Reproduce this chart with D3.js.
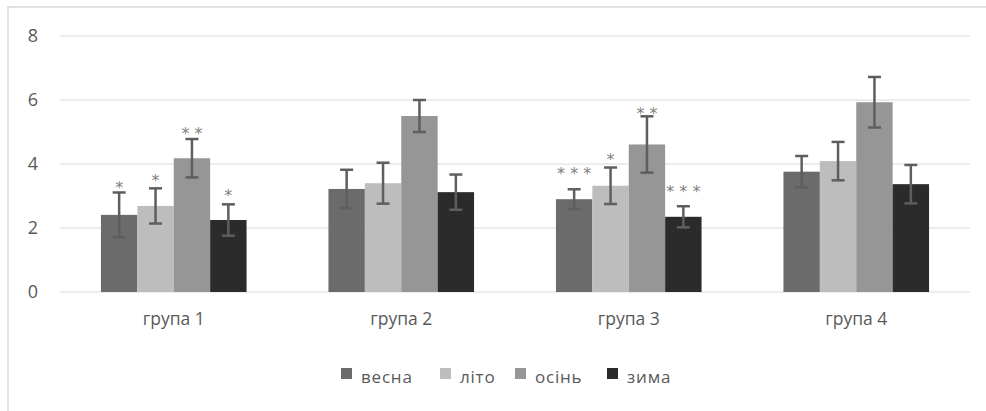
<!DOCTYPE html>
<html><head><meta charset="utf-8">
<script src="https://cdn.jsdelivr.net/npm/d3@7"></script>
<style>body{margin:0;background:#fff;} svg{display:block;}</style>
</head><body>
<script>
const categories = ["група 1","група 2","група 3","група 4"];
const seriesNames = ["весна","літо","осінь","зима"];
const values = [
  [2.41, 2.69, 4.18, 2.25],
  [3.22, 3.40, 5.50, 3.12],
  [2.90, 3.32, 4.61, 2.35],
  [3.76, 4.09, 5.93, 3.37]
];
const errors = [
  [0.70, 0.55, 0.60, 0.49],
  [0.60, 0.64, 0.50, 0.55],
  [0.31, 0.57, 0.88, 0.33],
  [0.49, 0.60, 0.79, 0.60]
];
const marks = [
  ["*","*","**","*"],
  ["","","",""],
  ["***","*","**","***"],
  ["","","",""]
];
const yTicks = [0,2,4,6,8];
const colors = ["#6b6b6b","#bdbdbd","#969696","#2b2b2b"];
// layout: pixel gap between error cap and centre of the significance label
const markGap = [
  [9,12,10,13],
  [0,0,0,0],
  [20,12,7,19],
  [0,0,0,0]
];

const W=986,H=411;
const svg=d3.select("body").append("svg").attr("width",W).attr("height",H);
svg.append("rect").attr("x",8).attr("y",7).attr("width",W+10).attr("height",H+10)
  .attr("fill","#fff").attr("stroke","#d9d9d9").attr("stroke-width",1.5);

const m={left:60,right:16,top:36,bottom:119};
const x0=d3.scaleBand().domain(categories).range([m.left,W-m.right]).paddingInner(0.36).paddingOuter(0.18);
const x1=d3.scaleBand().domain(seriesNames).range([0,x0.bandwidth()]);
const y=d3.scaleLinear().domain([0,8]).range([H-m.bottom,m.top]);
const font="'Open Sans', 'DejaVu Sans', sans-serif";

svg.append("g").selectAll("line").data(yTicks).join("line")
  .attr("x1",m.left).attr("x2",W-m.right)
  .attr("y1",d=>y(d)).attr("y2",d=>y(d))
  .attr("stroke","#d9d9d9").attr("stroke-width",1.2);

const yAxis=d3.axisLeft(y).tickValues(yTicks).tickSize(0).tickPadding(22);
const ya=svg.append("g").attr("transform",`translate(${m.left},0)`).call(yAxis);
ya.select(".domain").remove();
ya.selectAll("text").attr("font-family",font).attr("font-size",18).attr("fill","#595959");

const xAxis=d3.axisBottom(x0).tickSize(0).tickPadding(21);
const xa=svg.append("g").attr("transform",`translate(0,${y(0)})`).call(xAxis);
xa.select(".domain").remove();
xa.selectAll("text").attr("font-family",font).attr("font-size",17.5).attr("fill","#595959");

const data=[];
categories.forEach((c,i)=>seriesNames.forEach((s,j)=>data.push({c,s,v:values[i][j],e:errors[i][j],m:marks[i][j],gap:markGap[i][j],j})));

svg.append("g").selectAll("rect").data(data).join("rect")
  .attr("x",d=>x0(d.c)+x1(d.s)).attr("width",x1.bandwidth())
  .attr("y",d=>y(d.v)).attr("height",d=>y(0)-y(d.v))
  .attr("fill",d=>colors[d.j]);

const eb=svg.append("g").attr("stroke","#5e5e5e").attr("stroke-width",2.5);
data.forEach(d=>{
  const cx=x0(d.c)+x1(d.s)+x1.bandwidth()/2;
  eb.append("line").attr("x1",cx).attr("x2",cx).attr("y1",y(d.v+d.e)).attr("y2",y(d.v-d.e));
  eb.append("line").attr("x1",cx-6.5).attr("x2",cx+6.5).attr("y1",y(d.v+d.e)).attr("y2",y(d.v+d.e));
  eb.append("line").attr("x1",cx-6.5).attr("x2",cx+6.5).attr("y1",y(d.v-d.e)).attr("y2",y(d.v-d.e));
});

svg.append("g").selectAll("text").data(data.filter(d=>d.m)).join("text")
  .attr("x",d=>x0(d.c)+x1(d.s)+x1.bandwidth()/2)
  .attr("y",d=>y(d.v+d.e)-d.gap+9.5)
  .attr("text-anchor","middle")
  .attr("font-family","'DejaVu Sans', sans-serif").attr("font-size",16).attr("fill","#7f7f7f")
  .text(d=>d.m.split("").join(" "));

const legX=[341,440,515,607];
const lg=svg.append("g");
seriesNames.forEach((s,j)=>{
  lg.append("rect").attr("x",legX[j]).attr("y",368).attr("width",11).attr("height",11).attr("fill",colors[j]);
  lg.append("text").attr("x",legX[j]+20).attr("y",383).attr("font-family",font).attr("font-size",17)
    .attr("letter-spacing",0.8).attr("fill","#595959").text(s);
});
</script>
</body></html>
